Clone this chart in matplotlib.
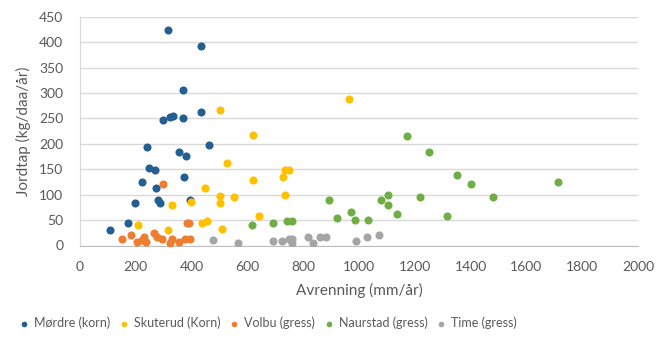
import matplotlib.pyplot as plt

plt.rcParams["font.family"] = ["Lato", "DejaVu Sans"]

# Avrenning (mm/år) og jordtap (kg/daa/år) per felt
mordre_x = [316, 432, 368, 432, 299, 323, 332, 368, 241, 464, 355, 381, 247, 268,
            374, 222, 272, 280, 287, 197, 393, 172, 108]
mordre_y = [423, 392, 305, 263, 246, 252, 254, 250, 194, 197, 184, 176, 153, 148,
            134, 124, 113, 90, 83, 83, 90, 44, 30]

skuterud_x = [502, 620, 527, 620, 449, 502, 552, 502, 330, 399, 641, 209, 437, 456,
              508, 316, 964, 735, 750, 729, 736]
skuterud_y = [267, 218, 162, 128, 113, 97, 96, 83, 79, 86, 58, 41, 44, 48,
              33, 30, 288, 148, 148, 134, 100]

volbu_x = [299, 391, 384, 152, 184, 203, 221, 229, 237, 265, 277, 295, 323, 331,
           355, 378, 394]
volbu_y = [121, 44, 44, 13, 20, 6, 10, 17, 6, 24, 16, 13, 5, 13,
           6, 13, 13]

naurstad_x = [615, 690, 741, 761, 894, 920, 970, 985, 1033, 1079, 1104, 1104, 1135,
              1173, 1252, 1219, 1314, 1352, 1403, 1479, 1713]
naurstad_y = [40, 44, 48, 48, 89, 54, 65, 51, 51, 89, 100, 79, 61,
              215, 184, 96, 58, 138, 121, 95, 124]

time_x = [476, 565, 690, 723, 750, 761, 761, 818, 836, 862, 881, 989, 1027, 1072]
time_y = [10, 5, 9, 9, 13, 13, 5, 17, 5, 16, 16, 9, 16, 20]

series = [
    ("Mørdre (korn)", mordre_x, mordre_y, "#255E91"),
    ("Skuterud (Korn)", skuterud_x, skuterud_y, "#FFC000"),
    ("Volbu (gress)", volbu_x, volbu_y, "#ED7D31"),
    ("Naurstad (gress)", naurstad_x, naurstad_y, "#70AD47"),
    ("Time (gress)", time_x, time_y, "#A5A5A5"),
]

fig = plt.figure(figsize=(6.57, 3.43), dpi=100)
ax = fig.add_axes([80 / 657, 1 - 245.5 / 343, 558 / 657, 228.8 / 343])

for name, xs, ys, color in series:
    ax.scatter(xs, ys, s=34, color=color, label=name, zorder=3, linewidths=0)

ax.set_xlim(0, 2000)
ax.set_ylim(0, 450)
ax.set_xticks(range(0, 2001, 200))
ax.set_yticks(range(0, 451, 50))
ax.grid(axis="y", color="#D9D9D9", linewidth=1)
ax.set_axisbelow(True)

for side in ["top", "right"]:
    ax.spines[side].set_visible(False)
ax.spines["left"].set_color("#D9D9D9")
ax.spines["bottom"].set_color("#BFBFBF")
ax.tick_params(length=0, labelsize=10, colors="#595959")
ax.tick_params(axis="x", pad=11)
ax.tick_params(axis="y", pad=12)

ax.set_xlabel("Avrenning (mm/år)", fontsize=11, color="#595959", labelpad=7)
ax.set_ylabel("Jordtap (kg/daa/år)", fontsize=11, color="#595959", labelpad=6)

fig.legend(loc="center", bbox_to_anchor=(268 / 657, 1 - 323 / 343), ncol=5,
           frameon=False, fontsize=9, labelcolor="#595959",
           handlelength=0.8, handletextpad=0.4, columnspacing=0.7,
           markerscale=0.7)

fig.savefig("out.png", dpi=100)
